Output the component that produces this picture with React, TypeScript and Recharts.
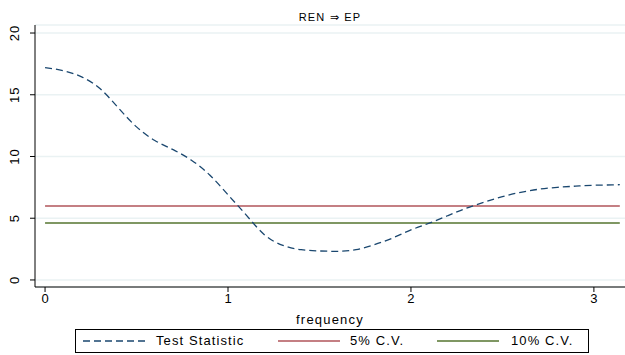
import React from 'react';
import {
    LineChart,
    Line,
    XAxis,
    YAxis,
    CartesianGrid,
    Legend,
} from 'recharts';

// frequency grid and the test statistic
const frequency = [
    0, 0.1, 0.2, 0.3, 0.4, 0.5, 0.6, 0.7, 0.8, 0.9, 1.0, 1.1, 1.2, 1.3, 1.4, 1.5,
    1.6, 1.7, 1.8, 1.9, 2.0, 2.1, 2.2, 2.3, 2.4, 2.5, 2.6, 2.7, 2.8, 2.9, 3.0, 3.1, 3.1416,
];
const testStatistic = [
    17.2, 16.95, 16.45, 15.5, 13.95, 12.4, 11.3, 10.55, 9.7, 8.5, 6.9, 5.25, 3.65, 2.8, 2.45, 2.35,
    2.32, 2.45, 2.85, 3.4, 4.05, 4.6, 5.2, 5.8, 6.3, 6.75, 7.1, 7.35, 7.5, 7.6, 7.67, 7.7, 7.72,
];
const cv5 = 5.99;
const cv10 = 4.61;

const xTicks = [0, 1, 2, 3];
const yTicks = [0, 5, 10, 15, 20];

const data = frequency.map((f, i) => ({
    frequency: f,
    test: testStatistic[i],
    cv5,
    cv10,
}));

const FONT = '"Liberation Sans", Arial, sans-serif';
const NAVY = '#1a476f';
const MAROON = '#b0545a';
const GREEN = '#55752f';

function YTick({ x, y, payload }: any) {
    return (
        <text
            x={0}
            y={0}
            transform={`translate(${x - 9},${y}) rotate(-90)`}
            textAnchor="middle"
            fontSize={13}
            fontFamily={FONT}
            letterSpacing={1}
            fill="#000"
        >
            {payload.value}
        </text>
    );
}

function LegendBox() {
    const items = [
        { label: 'Test Statistic', color: NAVY, dash: '7 4', line: 7, text: 80 },
        { label: '5% C.V.', color: MAROON, dash: undefined, line: 202, text: 274 },
        { label: '10% C.V.', color: GREEN, dash: undefined, line: 361, text: 435 },
    ];
    return (
        <div
            style={{
                position: 'relative',
                width: 512,
                height: 22,
                border: '1px solid #000',
                fontFamily: FONT,
                fontSize: 13,
                letterSpacing: 1.1,
                boxSizing: 'content-box',
            }}
        >
            {items.map((it) => (
                <React.Fragment key={it.label}>
                    <svg width={62} height={4} style={{ position: 'absolute', left: it.line, top: 9 }}>
                        <line x1={0} y1={2} x2={62} y2={2} stroke={it.color} strokeWidth={1.5} strokeDasharray={it.dash} />
                    </svg>
                    <span style={{ position: 'absolute', left: it.text, top: 3, whiteSpace: 'nowrap' }}>{it.label}</span>
                </React.Fragment>
            ))}
        </div>
    );
}

export default function App() {
    return (
        <div style={{ position: 'fixed', left: 0, top: 0, width: 625, height: 355, background: '#fff' }}>
            <div
                style={{
                    position: 'absolute',
                    top: 11,
                    left: 0,
                    width: 660,
                    textAlign: 'center',
                    fontFamily: FONT,
                    fontSize: 11,
                    letterSpacing: 1.2,
                }}
            >
                REN ⇒ EP
            </div>
            <LineChart width={625} height={355} data={data} margin={{ top: 25, right: 0, bottom: 0, left: 0 }}>
                <CartesianGrid vertical={false} stroke="#eaf2f3" strokeWidth={1.5} />
                <XAxis
                    dataKey="frequency"
                    type="number"
                    domain={[-0.055, 3.17]}
                    ticks={xTicks}
                    allowDataOverflow
                    height={43}
                    stroke="#000"
                    tickSize={5}
                    tick={{ fill: '#000', fontSize: 13, fontFamily: FONT }}
                    label={{
                        value: 'frequency',
                        position: 'insideBottom',
                        offset: 6,
                        fill: '#000',
                        fontSize: 13,
                        fontFamily: FONT,
                        letterSpacing: 1.2,
                    }}
                />
                <YAxis
                    type="number"
                    domain={[-0.57, 20.65]}
                    ticks={yTicks}
                    allowDataOverflow
                    width={35}
                    stroke="#000"
                    tickSize={5}
                    tick={<YTick />}
                />
                <Line dataKey="cv5" stroke={MAROON} strokeWidth={1.5} dot={false} isAnimationActive={false} />
                <Line dataKey="cv10" stroke={GREEN} strokeWidth={1.5} dot={false} isAnimationActive={false} />
                <Line
                    dataKey="test"
                    type="natural"
                    stroke={NAVY}
                    strokeWidth={1.3}
                    strokeDasharray="7 4"
                    dot={false}
                    isAnimationActive={false}
                />
                <Legend
                    verticalAlign="bottom"
                    content={<LegendBox />}
                    wrapperStyle={{ left: 75, width: 514, height: 25, bottom: 1 }}
                />
            </LineChart>
        </div>
    );
}
